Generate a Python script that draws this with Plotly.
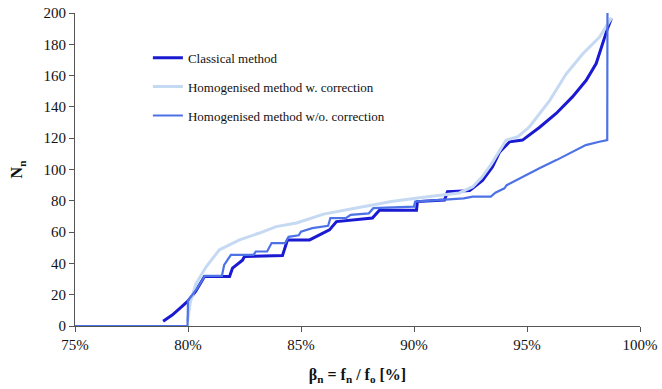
import plotly.graph_objects as go

# ---- data ----
classical_x = [78.90, 79.3, 79.7, 79.98, 80.33, 80.73, 81.84, 81.97, 82.41, 82.50, 84.18, 84.40,
               85.38, 85.82, 86.26, 86.57, 88.16, 88.47, 90.11, 90.15, 91.35, 91.48, 92.46,
               92.59, 93.03, 93.47, 93.78, 94.23, 94.80, 95.56, 96.29, 97.01, 97.62, 98.06,
               98.34, 98.56, 98.73]
classical_y = [3, 7, 12, 15.7, 22, 31.6, 31.6, 37, 42, 44.4, 45, 55,
               55, 58, 61.4, 66.7, 69, 74, 74, 79.5, 80.5, 85.8, 86.5,
               88, 93, 101.6, 111, 117.7, 118.8, 127, 135.8, 146.4, 157, 167.7,
               180.6, 190, 196.4]

corr_x = [79.98, 80.1, 80.35, 80.81, 81.39, 82.28, 83.16, 83.9, 84.8, 86.0, 87.5, 89.0,
          90.5, 92.0, 92.6, 93.0, 93.4, 93.8, 94.08, 94.6, 95.11, 96.0, 96.73, 97.47,
          98.21, 98.57, 98.75]
corr_y = [3, 15, 27, 38, 48.7, 55, 59.4, 63.5, 65.8, 71.5, 75.5, 79.5,
          82.5, 85, 89, 95, 103, 112, 118.8, 121, 127.3, 144, 161, 174,
          184.7, 193, 197]

nocorr_x = [75.0, 79.98, 80.0, 80.4, 80.75, 81.5, 81.6, 81.9, 82.9, 83.0, 83.5, 83.7,
            84.3, 84.45, 84.9, 85.0, 85.5, 86.2, 86.3, 87.0, 87.2, 88.0, 88.2, 89.3,
            90.0, 90.05, 91.0, 92.2, 92.6, 93.4, 93.6, 94.0, 94.1, 94.8, 95.55, 96.3,
            97.0, 97.6, 98.2, 98.55, 98.56]
nocorr_y = [0, 0, 16, 24, 32, 32, 39, 45.5, 45.5, 47.6, 47.6, 53,
            53, 57, 58, 60.3, 62.5, 64, 68.9, 69, 71, 72, 75.3, 76,
            76.3, 79.5, 80.5, 81.5, 82.7, 82.7, 85.2, 88, 90, 95.4, 100.8, 106,
            111.4, 115.6, 117.7, 118.8, 200]

series_names = ["Classical method", "Homogenised method w. correction",
                "Homogenised method w/o. correction"]

x_ticks = [75, 80, 85, 90, 95, 100]
x_tick_labels = ["75%", "80%", "85%", "90%", "95%", "100%"]
y_ticks = [0, 20, 40, 60, 80, 100, 120, 140, 160, 180, 200]

FONT = "Liberation Serif"

fig = go.Figure()
fig.add_trace(go.Scatter(x=classical_x, y=classical_y, mode="lines", name=series_names[0],
                         line=dict(color="#1a1ad2", width=3), legendgroup="a"))
fig.add_trace(go.Scatter(x=corr_x, y=corr_y, mode="lines", name=series_names[1],
                         line=dict(color="#c6d9f3", width=3), legendgroup="b"))
fig.add_trace(go.Scatter(x=nocorr_x, y=nocorr_y, mode="lines", name=series_names[2],
                         line=dict(color="#4d72e6", width=2.2), legendgroup="c"))

fig.update_layout(
    width=662, height=389,
    margin=dict(l=75, r=22, t=13, b=63),
    paper_bgcolor="white", plot_bgcolor="white",
    font=dict(family=FONT, size=15, color="#111111"),
    showlegend=True,
    legend=dict(x=0.129, y=0.905, xanchor="left", yanchor="top",
                font=dict(family=FONT, size=13, color="#111111"),
                bgcolor="rgba(0,0,0,0)", tracegroupgap=9),
    xaxis=dict(range=[75, 100], tickvals=x_ticks, ticktext=x_tick_labels,
               showgrid=False, zeroline=False, showline=True, linecolor="#555555",
               linewidth=1, ticks="outside", ticklen=5, tickcolor="#555555",
               automargin=False,
               title=dict(text="<b>β<sub>n</sub> = f<sub>n</sub> / f<sub>o</sub> [%]</b>",
                          font=dict(family=FONT, size=16), standoff=16)),
    yaxis=dict(range=[0, 200], tickvals=y_ticks, showgrid=False, zeroline=False,
               showline=True, linecolor="#555555", linewidth=1, ticks="outside",
               ticklen=5, tickcolor="#555555", automargin=False,
               title=dict(text="<b>N<sub>n</sub></b>", font=dict(family=FONT, size=16),
                          standoff=16)),
)

fig.write_html("out.html")
